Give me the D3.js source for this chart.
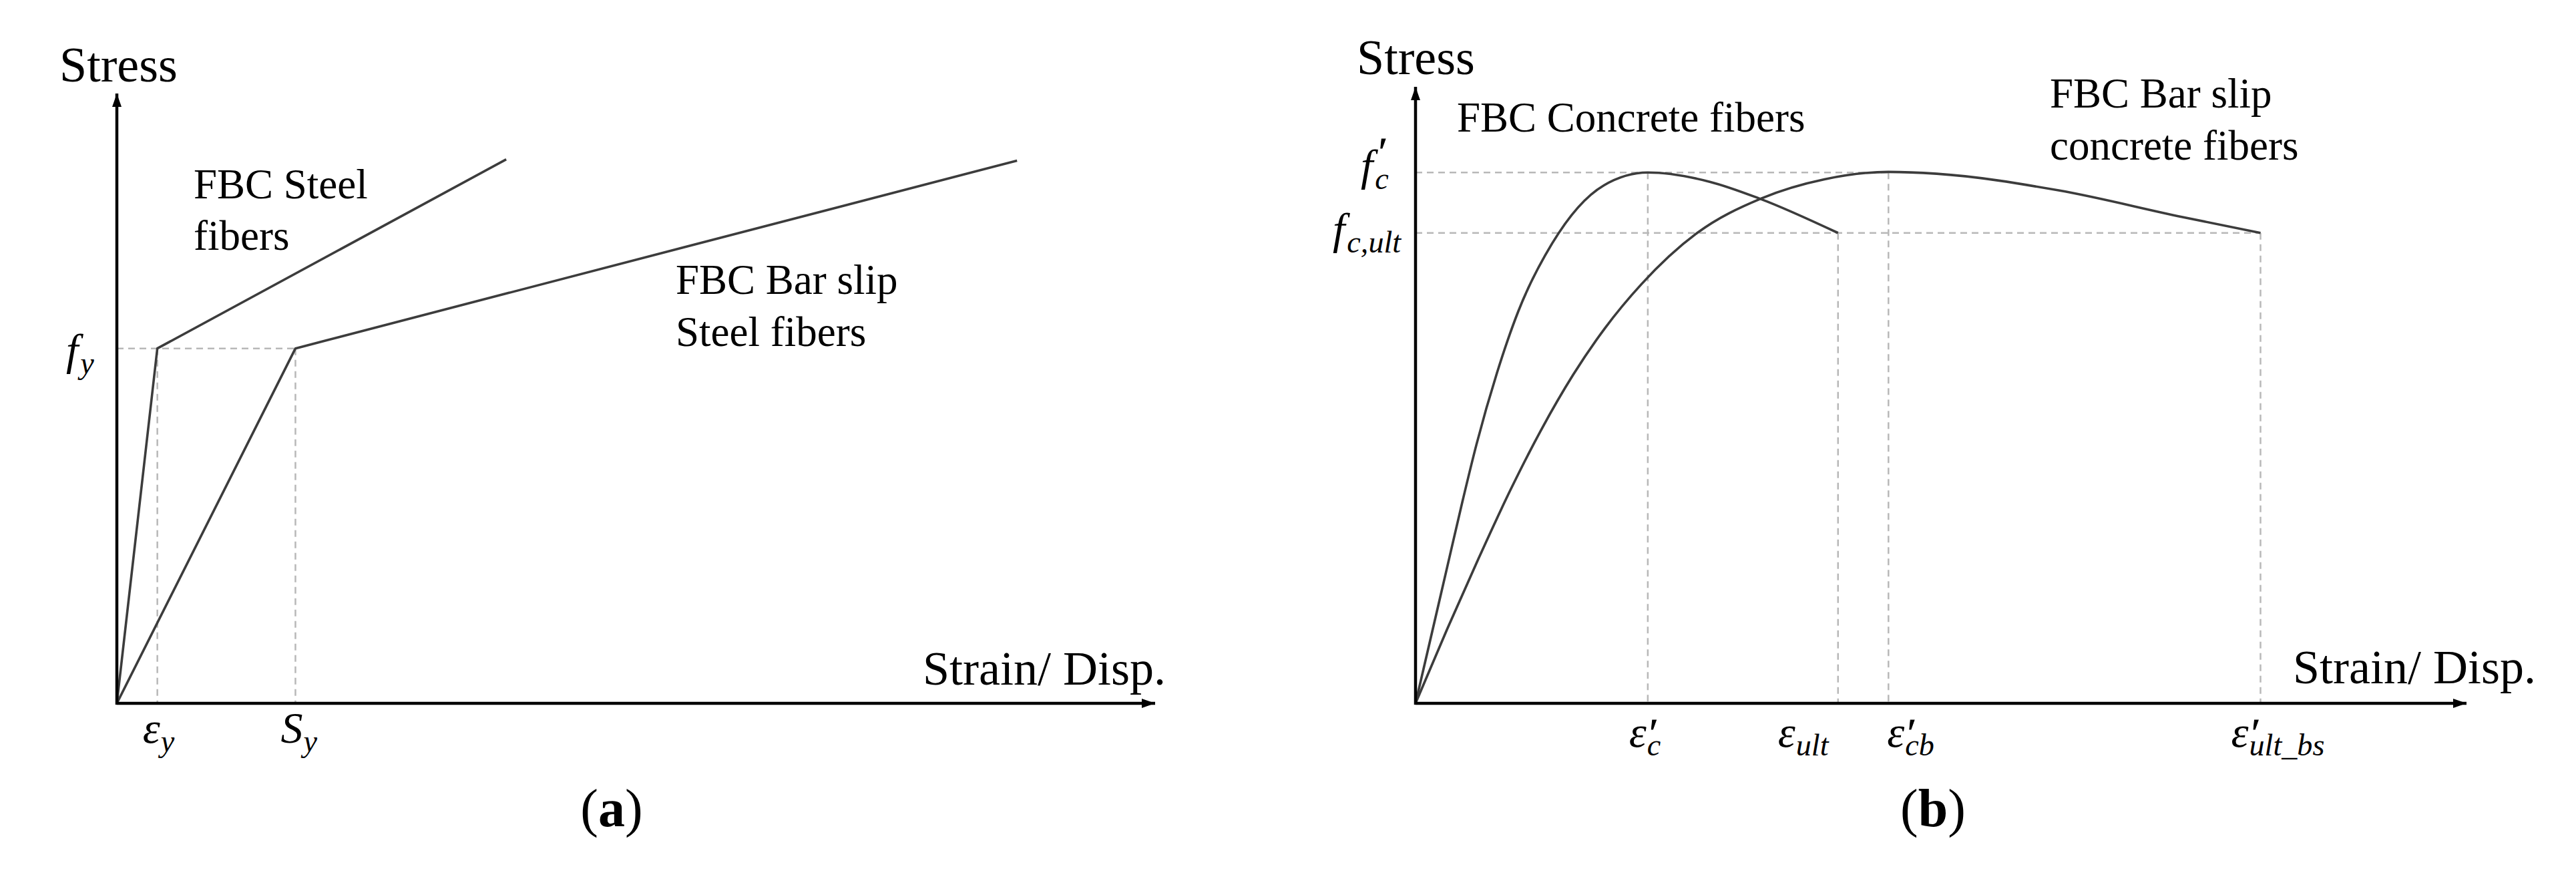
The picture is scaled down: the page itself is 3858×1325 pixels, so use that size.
<!DOCTYPE html>
<html>
<head>
<meta charset="utf-8">
<script src="https://cdn.jsdelivr.net/npm/d3@7"></script>
<style>
  html, body { margin: 0; padding: 0; background: #fff; }
  svg { display: block; }
  .txt { font-family: "Liberation Serif", "Times New Roman", serif; fill: #000; }
  .math { font-family: "Liberation Serif", "Times New Roman", serif; font-style: italic; fill: #000; }
</style>
</head>
<body>
<script>
// ---------------- DATA ----------------
// Panel (a): normalized strain (% of axis length) / stress (% of axis height)
const steelStrain        = [0, 3.9, 37.5];
const steelStress        = [0, 58.2, 89.2];
const barSlipSteelStrain = [0, 17.2, 86.7];
const barSlipSteelStress = [0, 58.2, 89.0];
const aXTickValues = [3.9, 17.2];
const aXTickLabels = [{base: "ε", sub: "y"}, {base: "S", sub: "y"}];
const aYTickValues = [58.2];
const aYTickLabels = [{base: "f", sub: "y"}];

// Panel (b)
const concreteStrain = [0, 1.5, 3.0, 4.5, 5.8, 7.75, 9.78, 13.0, 17.9, 22.1, 28.0, 32.7, 40.2];
const concreteStress = [0, 11.0, 22.0, 33.0, 42.0, 53.6, 63.6, 74.6, 84.0, 86.1, 84.6, 81.9, 76.3];
const barSlipConcStrain = [0, 3, 6, 9, 12, 15, 18, 21.5, 26.8, 32.9, 38.9, 45.0, 49.6, 61.2, 72.9, 80.4];
const barSlipConcStress = [0, 12, 23.5, 34.5, 44.5, 53.3, 60.8, 68.0, 76.3, 81.9, 85.0, 86.2, 85.9, 83.2, 78.9, 76.3];
const bXTickValues = [22.1, 40.2, 45.0, 80.4];
const bXTickLabels = [
  {base: "ε", sub: "c", prime: true},
  {base: "ε", sub: "ult"},
  {base: "ε", sub: "cb", prime: true},
  {base: "ε", sub: "ult_bs", prime: true}
];
const bYTickValues = [86.1, 76.3];
const bYTickLabels = [{base: "f", sub: "c", prime: true}, {base: "f", sub: "c,ult"}];

// ---------------- LAYOUT ----------------
const W = 3858, H = 1325;
const svg = d3.select("body").append("svg").attr("width", W).attr("height", H);
svg.append("rect").attr("width", W).attr("height", H).attr("fill", "#fff");

svg.append("defs").append("marker")
  .attr("id", "arrow").attr("markerUnits", "userSpaceOnUse")
  .attr("viewBox", "-20 -8 20 16").attr("refX", 0).attr("refY", 0)
  .attr("markerWidth", 20).attr("markerHeight", 16).attr("orient", "auto")
  .append("path").attr("d", "M-20,-7 L0,0 L-20,7 Z").attr("fill", "#000");

const CURVE = "#3c3c3c", GUIDE = "#b8b8b8";

function drawAxes(g, x, y) {
  g.append("line").attr("x1", x(0)).attr("y1", y(0)).attr("x2", x(100)).attr("y2", y(0))
    .attr("stroke", "#000").attr("stroke-width", 4.5).attr("marker-end", "url(#arrow)");
  g.append("line").attr("x1", x(0)).attr("y1", y(0) + 2).attr("x2", x(0)).attr("y2", y(100))
    .attr("stroke", "#000").attr("stroke-width", 4.5).attr("marker-end", "url(#arrow)");
}
function guideH(g, x, y, yv, xEnd) {
  g.append("line").attr("x1", x(0)).attr("x2", x(xEnd)).attr("y1", y(yv)).attr("y2", y(yv))
    .attr("stroke", GUIDE).attr("stroke-width", 2.5).attr("stroke-dasharray", "10,7");
}
function guideV(g, x, y, xv, yTop) {
  g.append("line").attr("x1", x(xv)).attr("x2", x(xv)).attr("y1", y(yTop)).attr("y2", y(0) - 2)
    .attr("stroke", GUIDE).attr("stroke-width", 2.5).attr("stroke-dasharray", "10,7");
}
function curve(g, x, y, xs, ys, smooth) {
  const line = d3.line().x(d => x(d[0])).y(d => y(d[1]));
  if (smooth) line.curve(d3.curveMonotoneX);
  g.append("path").attr("d", line(d3.zip(xs, ys)))
    .attr("fill", "none").attr("stroke", CURVE).attr("stroke-width", 3.6)
    .attr("stroke-linejoin", "round");
}
function textLines(g, x, y0, lines, size, lh) {
  lines.forEach((s, i) => g.append("text").attr("class", "txt").attr("x", x).attr("y", y0 + i * lh)
    .attr("font-size", size).text(s));
}
// One text element per label: base glyph, optional prime (raised) and subscript stacked under it.
function mathLabel(g, left, baseline, lab, size) {
  const isF = lab.base === "f";
  const t = g.append("text").attr("class", "math").attr("x", left).attr("y", baseline).attr("font-size", size);
  t.append("tspan").text(lab.base);
  let subDx = isF ? 3 : 1, subDy = size * 0.2;
  if (lab.prime) {
    const before = t.node().getComputedTextLength();
    const pdx = isF ? 5 : 1, pdy = -size * (isF ? 0.36 : 0.02);
    t.append("tspan").attr("dx", pdx).attr("dy", pdy).attr("font-size", size * 0.9)
      .attr("stroke", "#000").attr("stroke-width", 1).text("′");
    const after = t.node().getComputedTextLength();
    subDx = -(after - before) - pdx + (isF ? 3 : 1);
    subDy = -pdy + size * 0.2;
  }
  if (lab.sub) t.append("tspan").attr("dx", subDx).attr("dy", subDy)
    .attr("font-size", size * 0.7).text(lab.sub);
}

// ---------------- PANEL (a) ----------------
const ga = svg.append("g");
const xa = d3.scaleLinear([0, 100], [175, 1730]);
const ya = d3.scaleLinear([0, 100], [1053, 140]);

guideH(ga, xa, ya, aYTickValues[0], aXTickValues[1]);
aXTickValues.forEach(v => guideV(ga, xa, ya, v, aYTickValues[0]));
curve(ga, xa, ya, steelStrain, steelStress, false);
curve(ga, xa, ya, barSlipSteelStrain, barSlipSteelStress, false);
drawAxes(ga, xa, ya);

const aXLabelDx = [-22, -22];
aXTickValues.forEach((v, i) => mathLabel(ga, xa(v) + aXLabelDx[i], 1112, aXTickLabels[i], 66));
mathLabel(ga, xa(0) - 76, ya(aYTickValues[0]) + 24, aYTickLabels[0], 66);

ga.append("text").attr("class", "txt").attr("x", 89).attr("y", 122).attr("font-size", 74).text("Stress");
ga.append("text").attr("class", "txt").attr("x", 1382).attr("y", 1025).attr("font-size", 72).text("Strain/ Disp.");
textLines(ga, 290, 297, ["FBC Steel", "fibers"], 63, 77);
textLines(ga, 1012, 440, ["FBC Bar slip", "Steel fibers"], 63, 78);
const la = ga.append("text").attr("class", "txt").attr("x", 916).attr("y", 1237).attr("font-size", 80)
  .attr("text-anchor", "middle");
la.append("tspan").text("(");
la.append("tspan").attr("font-weight", "bold").text("a");
la.append("tspan").text(")");

// ---------------- PANEL (b) ----------------
const gb = svg.append("g");
const xb = d3.scaleLinear([0, 100], [2120, 3694]);
const yb = d3.scaleLinear([0, 100], [1053, 130]);

guideH(gb, xb, yb, bYTickValues[0], bXTickValues[2]);
guideH(gb, xb, yb, bYTickValues[1], bXTickValues[3]);
guideV(gb, xb, yb, bXTickValues[0], bYTickValues[0]);
guideV(gb, xb, yb, bXTickValues[1], bYTickValues[1]);
guideV(gb, xb, yb, bXTickValues[2], bYTickValues[0]);
guideV(gb, xb, yb, bXTickValues[3], bYTickValues[1]);
curve(gb, xb, yb, concreteStrain, concreteStress, true);
curve(gb, xb, yb, barSlipConcStrain, barSlipConcStress, true);
drawAxes(gb, xb, yb);

const bXLabelDx = [-28, -90, -2, -44];
bXTickValues.forEach((v, i) => mathLabel(gb, xb(v) + bXLabelDx[i], 1118, bXTickLabels[i], 66));
const bYLabelLeft = [2038, 1996];
const bYLabelDy = [12, 16];
bYTickValues.forEach((v, i) => mathLabel(gb, bYLabelLeft[i], yb(v) + bYLabelDy[i], bYTickLabels[i], 66));

gb.append("text").attr("class", "txt").attr("x", 2032).attr("y", 111).attr("font-size", 74).text("Stress");
gb.append("text").attr("class", "txt").attr("x", 3434).attr("y", 1023).attr("font-size", 72).text("Strain/ Disp.");
textLines(gb, 2182, 197, ["FBC Concrete fibers"], 63, 77);
textLines(gb, 3070, 161, ["FBC Bar slip", "concrete fibers"], 63, 78);
const lb = gb.append("text").attr("class", "txt").attr("x", 2895).attr("y", 1237).attr("font-size", 80)
  .attr("text-anchor", "middle");
lb.append("tspan").text("(");
lb.append("tspan").attr("font-weight", "bold").text("b");
lb.append("tspan").text(")");
</script>
</body>
</html>
